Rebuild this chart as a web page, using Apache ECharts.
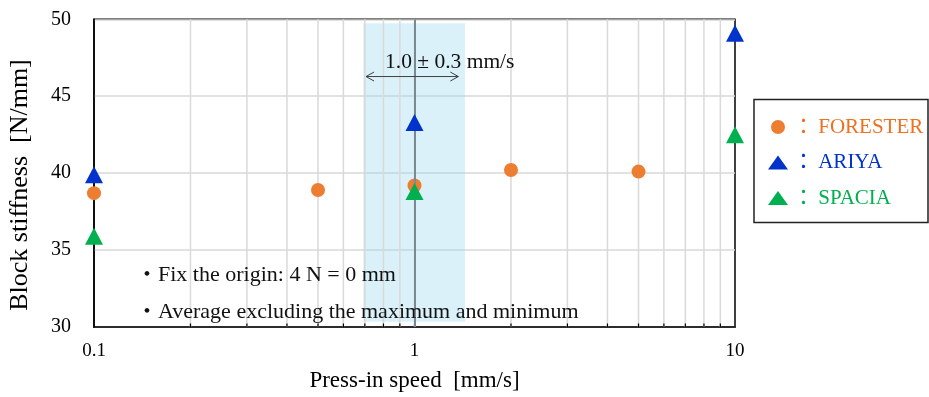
<!DOCTYPE html>
<html><head><meta charset="utf-8">
<script src="https://cdn.jsdelivr.net/npm/echarts@6/dist/echarts.min.js"></script>
<style>html,body{margin:0;padding:0;background:#fff}#c{width:929px;height:397px}</style>
</head><body><div id="c"></div>
<script>
// ---- data ----
const foresterSpeed = [0.1, 0.5, 1, 2, 5];
const foresterValues = [38.7, 38.9, 39.2, 40.2, 40.1];
const ariyaSpeed = [0.1, 1, 10];
const ariyaValues = [39.9, 43.3, 49.1];
const spaciaSpeed = [0.1, 1, 10];
const spaciaValues = [35.9, 38.8, 42.5];
const xTickLabels = ['0.1', '1', '10'];
const yTickStep = 5;
const minorGridSpeeds = [0.2, 0.3, 0.4, 0.5, 0.6, 0.7, 0.8, 0.9, 1, 2, 3, 4, 5, 6, 7, 8, 9];
const bandSpeedRange = [0.692, 1.437];
const bandStiffRange = [30.34, 49.74];
const referenceSpeed = [1];
const arrowSpeedRange = [0.706, 1.37];
const arrowLevel = [46.28];
const notes = ['・Fix the origin: 4 N = 0 mm', '・Average excluding the maximum and minimum'];
const speedNote = '1.0 ± 0.3 mm/s';

const FONT = '"Liberation Serif", "Times New Roman", "Noto Sans CJK JP", serif';
const C_OR = '#ED7D31', C_BL = '#0033CC', C_GR = '#00B050';

const chart = echarts.init(document.getElementById('c'), null, {renderer: 'canvas'});
const zip = (a, b) => a.map((v, i) => [v, b[i]]);

chart.setOption({
  animation: false,
  backgroundColor: '#fff',
  grid: {left: 94, right: 194, top: 19.3, bottom: 69, show: true, borderColor: '#000', borderWidth: 1.5, backgroundColor: 'transparent'},
  xAxis: {
    type: 'log', logBase: 10, min: 0.1, max: 10,
    axisLine: {show: true, lineStyle: {color: '#000', width: 1.5}},
    axisTick: {show: false}, splitLine: {show: false}, minorTick: {show: false},
    axisLabel: {fontSize: 19, color: '#000', fontFamily: FONT, margin: 15,
      formatter: v => { const s = String(+v.toPrecision(3)); return xTickLabels.indexOf(s) >= 0 ? s : ''; }},
    name: 'Press-in speed  [mm/s]', nameLocation: 'middle', nameGap: 42,
    nameTextStyle: {fontSize: 23, color: '#000', fontFamily: FONT}
  },
  yAxis: {
    type: 'value', min: 30, max: 50, interval: yTickStep,
    axisLine: {show: true, lineStyle: {color: '#000', width: 1.5}},
    axisTick: {show: false},
    splitLine: {show: true, lineStyle: {color: '#d9d9d9', width: 1.5}},
    axisLabel: {fontSize: 20, color: '#000', fontFamily: FONT, margin: 23}
  },
  legend: {
    orient: 'vertical', left: 763, top: 111.5, itemWidth: 20, itemHeight: 14, itemGap: 14.5,
    selectedMode: false, formatter: '：\u2009{name}',
    textStyle: {fontSize: 21, fontFamily: FONT},
    data: [
      {name: 'FORESTER', textStyle: {color: '#F07020'}},
      {name: 'ARIYA', textStyle: {color: C_BL}},
      {name: 'SPACIA', textStyle: {color: C_GR}}
    ]
  },
  series: [
    {
      type: 'custom', name: 'minorGrid', z: 1, silent: true, clip: false,
      data: minorGridSpeeds.map(v => [v]),
      encode: {x: 0},
      renderItem: (params, api) => {
        const v = api.value(0);
        const t = api.coord([v, 50]);
        const b = api.coord([v, 30]);
        return {type: 'group', children: [
          {type: 'line', shape: {x1: t[0], y1: t[1], x2: b[0], y2: b[1]}, style: {stroke: '#d9d9d9', lineWidth: 1.5}},
          {type: 'line', shape: {x1: b[0], y1: b[1], x2: b[0], y2: b[1] - 3.5}, style: {stroke: '#000', lineWidth: 1.2}}
        ]};
      }
    },
    {
      type: 'scatter', name: 'FORESTER', z: 2, clip: false, symbol: 'circle', symbolSize: 14,
      itemStyle: {color: C_OR, opacity: 1}, data: zip(foresterSpeed, foresterValues)
    },
    {
      type: 'scatter', name: 'band', z: 3, data: [], silent: true,
      markArea: {silent: true, itemStyle: {color: 'rgba(150,215,240,0.35)'},
        data: [[{coord: [bandSpeedRange[0], bandStiffRange[0]]}, {coord: [bandSpeedRange[1], bandStiffRange[1]]}]]}
    },
    {
      type: 'scatter', name: 'refline', z: 4, data: [], silent: true,
      markLine: {silent: true, symbol: 'none', label: {show: false},
        lineStyle: {color: '#7a8a92', width: 2, type: 'solid'},
        data: referenceSpeed.map(v => ({xAxis: v}))}
    },
    {
      type: 'scatter', name: 'ARIYA', z: 5, clip: false, symbol: 'triangle', symbolSize: [18, 17],
      itemStyle: {color: C_BL, opacity: 1}, data: zip(ariyaSpeed, ariyaValues)
    },
    {
      type: 'scatter', name: 'SPACIA', z: 5, clip: false, symbol: 'triangle', symbolSize: [18, 17],
      itemStyle: {color: C_GR, opacity: 1}, data: zip(spaciaSpeed, spaciaValues)
    }
  ]
});

const pA = chart.convertToPixel({gridIndex: 0}, [arrowSpeedRange[0], arrowLevel[0]]);
const pB = chart.convertToPixel({gridIndex: 0}, [arrowSpeedRange[1], arrowLevel[0]]);
const ay = pA[1];
const txtStyle = (s, x, y, size) => ({type: 'text', z: 100, x: x, y: y,
  style: {text: s, fontSize: size, fontFamily: FONT, fill: '#111', align: 'left', textAlign: 'left', verticalAlign: 'middle', textVerticalAlign: 'middle'}});

chart.setOption({
  graphic: [
    {type: 'line', z: 100, shape: {x1: pA[0], y1: ay, x2: pB[0], y2: ay}, style: {stroke: '#404040', lineWidth: 1}},
    {type: 'polyline', z: 100, shape: {points: [[pA[0] + 8, ay - 4.5], [pA[0], ay], [pA[0] + 8, ay + 4.5]]}, style: {stroke: '#404040', lineWidth: 1, fill: null}},
    {type: 'polyline', z: 100, shape: {points: [[pB[0] - 8, ay - 4.5], [pB[0], ay], [pB[0] - 8, ay + 4.5]]}, style: {stroke: '#404040', lineWidth: 1, fill: null}},
    txtStyle(speedNote, 385, 62, 21.5),
    txtStyle(notes[0], 136, 275, 22),
    txtStyle(notes[1], 136, 312, 22),
    {type: 'text', z: 100, x: 20, y: 185, rotation: Math.PI / 2,
      style: {text: 'Block stiffness  [N/mm]', fontSize: 26, fontFamily: FONT, fill: '#000', align: 'center', textAlign: 'center', verticalAlign: 'middle', textVerticalAlign: 'middle'}},
    {type: 'rect', z: 100, shape: {x: 754, y: 99.5, width: 174, height: 123}, style: {stroke: '#222', lineWidth: 1.5, fill: null}}
  ]
});
</script></body></html>
